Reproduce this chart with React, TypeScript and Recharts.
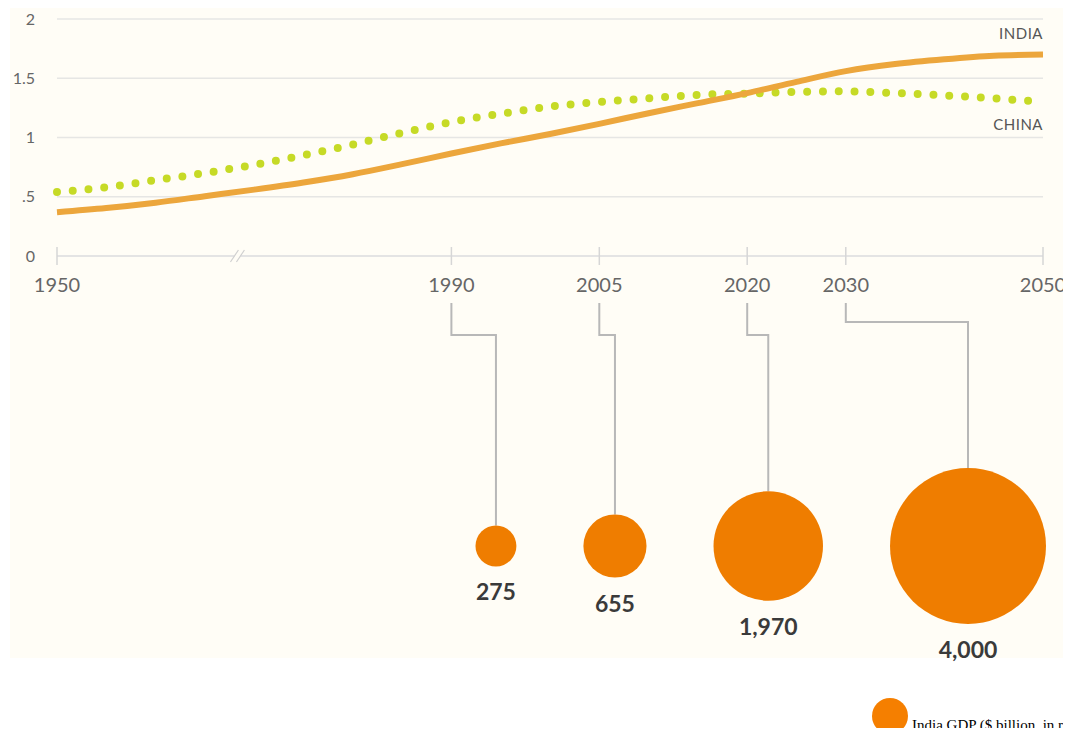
import React from 'react'
import {
  LineChart, Line, XAxis, YAxis, CartesianGrid, LabelList, ReferenceDot,
  ScatterChart, Scatter, ZAxis,
} from 'recharts'

// ratio series, every 5 years
const years = [1950, 1955, 1960, 1965, 1970, 1975, 1980, 1985, 1990, 1995, 2000, 2005, 2010, 2015, 2020, 2025, 2030, 2035, 2040, 2045, 2050]
const india = [0.37, 0.405, 0.45, 0.505, 0.56, 0.62, 0.69, 0.775, 0.865, 0.95, 1.03, 1.115, 1.205, 1.29, 1.375, 1.47, 1.56, 1.62, 1.66, 1.69, 1.70]
const china = [0.54, 0.58, 0.64, 0.70, 0.77, 0.85, 0.94, 1.04, 1.13, 1.20, 1.26, 1.30, 1.33, 1.36, 1.37, 1.385, 1.39, 1.375, 1.355, 1.33, 1.30]

const xTicks = [1950, 1990, 2005, 2020, 2030, 2050]
const yTicks = [0, 0.5, 1, 1.5, 2]

// India GDP bubbles
const gdpYears = [1990, 2005, 2020, 2030]
const gdpValues = [275, 655, 1970, 4000]

const lineData = years.map((year, i) => ({ year, india: india[i], china: china[i] }))
const gdpData = gdpYears.map((year, i) => ({ year, pos: 0, gdp: gdpValues[i] }))

const W = 1071
const PLOT_LEFT = 57
const PLOT_RIGHT = 1043
const MAX_AREA = Math.PI * 78 * 78
const GDP_MAX = 4000
const BUBBLE_GAP = 67
const ORANGE = '#EF7D00'
const FONT = 'Lato, "DejaVu Sans", sans-serif'

// bubbles are packed from the right edge of the plot, with a constant gap
const radii = gdpValues.map(v => Math.sqrt((v / GDP_MAX) * MAX_AREA / Math.PI))
const centers: number[] = []
{
  let edge = PLOT_RIGHT + 3
  for (let i = radii.length - 1; i >= 0; i--) {
    centers[i] = edge - radii[i]
    edge = centers[i] - radii[i] - BUBBLE_GAP
  }
}
const elbowY = [35, 35, 35, 22]

function XTick(props: any) {
  const { x, y, payload } = props
  return (
    <g>
      <line x1={x} x2={x} y1={y - 9} y2={y + 9} stroke="#d6d6d6" strokeWidth={1.5} />
      <text x={x} y={y + 36} textAnchor="middle" fontFamily={FONT} fontSize={20} fill="#666">
        {payload.value}
      </text>
    </g>
  )
}

function AxisBreak(props: any) {
  const { cx, cy } = props
  return (
    <g>
      <rect x={cx - 3} y={cy - 2} width={6} height={4} fill="#FFFDF6" />
      <line x1={cx - 7} y1={cy + 6} x2={cx + 1} y2={cy - 6} stroke="#d0d0d0" strokeWidth={1.2} />
      <line x1={cx - 1} y1={cy + 6} x2={cx + 7} y2={cy - 6} stroke="#d0d0d0" strokeWidth={1.2} />
    </g>
  )
}

const endLabel = (text: string, dy: number) => (props: any) => {
  const { y, index } = props
  if (index !== years.length - 1) return null
  return (
    <text x={PLOT_RIGHT} y={y + dy} textAnchor="end" fontFamily={FONT} fontSize={15} letterSpacing={0.5} fill="#555">
      {text}
    </text>
  )
}

function Bubble(props: any) {
  const { cx, cy, width, payload } = props
  const i = gdpYears.indexOf(payload.year)
  const r = width ? width / 2 : radii[i]
  const bx = centers[i]
  const ey = elbowY[i]
  return (
    <g>
      <polyline
        points={`${cx},3 ${cx},${ey} ${bx},${ey} ${bx},${cy - r}`}
        fill="none"
        stroke="#b8b8b8"
        strokeWidth={2}
      />
      <circle cx={bx} cy={cy} r={r} fill={ORANGE} />
      <text x={bx} y={cy + r + 34} textAnchor="middle" fontFamily={FONT} fontWeight={700} fontSize={23} fill="#3a3a3a">
        {payload.gdp.toLocaleString('en-US')}
      </text>
    </g>
  )
}

export default function App() {
  return (
    <div style={{ position: 'relative', margin: -8, width: W, height: 736, overflow: 'hidden', background: '#fff' }}>
      <div style={{ position: 'absolute', left: 10, top: 0, width: W - 10, height: 658, background: '#FFFDF6' }} />

      <div style={{ position: 'absolute', left: 0, top: 0 }}>
        <LineChart width={W} height={300} data={lineData} margin={{ top: 19, right: W - PLOT_RIGHT, bottom: 0, left: 0 }}>
          <CartesianGrid vertical={false} stroke="#e6e6e4" strokeWidth={1.5} />
          <XAxis
            dataKey="year"
            type="number"
            domain={[1950, 2050]}
            ticks={xTicks}
            interval={0}
            height={44}
            tickSize={0}
            tickMargin={0}
            tickLine={false}
            axisLine={{ stroke: '#e2e2e2', strokeWidth: 1.5 }}
            tick={<XTick />}
          />
          <YAxis
            domain={[0, 2]}
            ticks={yTicks}
            width={PLOT_LEFT}
            axisLine={false}
            tickLine={false}
            tickSize={0}
            tickMargin={22}
            tickFormatter={(v: number) => (v === 0.5 ? '.5' : String(v))}
            tick={{ fontFamily: FONT, fontSize: 16, fill: '#666' }}
          />
          <ReferenceDot x={1968.3} y={0} r={0} shape={<AxisBreak />} />
          <Line
            dataKey="china"
            type="monotone"
            stroke="#C6DA26"
            strokeWidth={8}
            strokeLinecap="round"
            strokeDasharray="0 15.8"
            dot={false}
            isAnimationActive={false}
          >
            <LabelList dataKey="china" content={endLabel('CHINA', 28)} />
          </Line>
          <Line
            dataKey="india"
            type="monotone"
            stroke="#ECA63C"
            strokeWidth={6}
            dot={false}
            isAnimationActive={false}
          >
            <LabelList dataKey="india" content={endLabel('INDIA', -16)} />
          </Line>
        </LineChart>
      </div>

      <div style={{ position: 'absolute', left: 0, top: 300 }}>
        <ScatterChart width={W} height={370} margin={{ top: 122, right: W - PLOT_RIGHT, bottom: 0, left: PLOT_LEFT }}>
          <XAxis dataKey="year" type="number" domain={[1950, 2050]} hide />
          <YAxis dataKey="pos" type="number" domain={[-1, 1]} hide />
          <ZAxis dataKey="gdp" type="number" domain={[0, GDP_MAX]} range={[0, MAX_AREA]} />
          <Scatter data={gdpData} fill={ORANGE} shape={<Bubble />} isAnimationActive={false} />
        </ScatterChart>
      </div>

      <svg width={38} height={38} style={{ position: 'absolute', left: 871, top: 697, display: 'block' }}>
        <circle cx={19} cy={19} r={18} fill="#F57F00" />
      </svg>
      <span
        style={{
          position: 'absolute',
          left: 912,
          top: 718,
          whiteSpace: 'nowrap',
          fontFamily: '"Liberation Serif", serif',
          fontSize: 15,
          lineHeight: '15px',
          color: '#000',
        }}
      >
        India GDP ($ billion, in real terms)
      </span>
    </div>
  )
}
